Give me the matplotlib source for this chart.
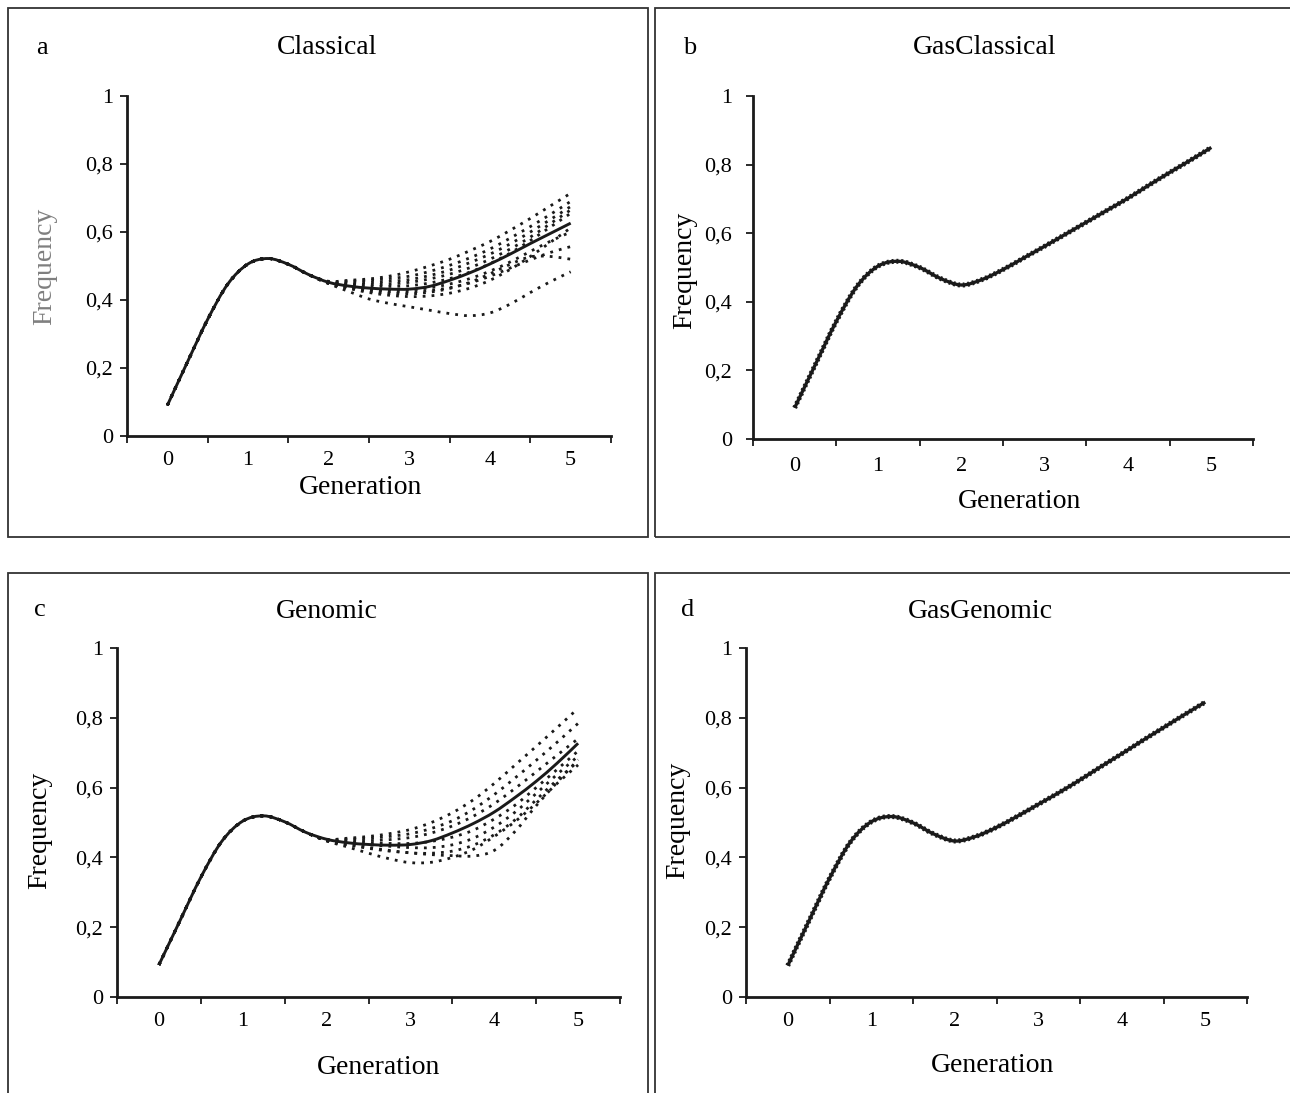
import numpy as np
import matplotlib
matplotlib.use("Agg")
import matplotlib.pyplot as plt
from matplotlib.patches import Rectangle, PathPatch
from matplotlib.path import Path
from matplotlib.ticker import FixedLocator, FuncFormatter

plt.rcParams['font.family'] = ['Liberation Serif', 'DejaVu Serif']

W, H = 1290, 1093

# ---------------- data ----------------
generation = [0.0, 0.25, 0.5, 0.75, 1.0, 1.25, 1.5, 1.75, 2.0, 2.25, 2.5, 2.75,
              3.0, 3.25, 3.5, 3.75, 4.0, 4.25, 4.5, 4.75, 5.0]
tick_labels_x = ["0", "1", "2", "3", "4", "5"]
tick_labels_y = ["0", "0,2", "0,4", "0,6", "0,8", "1"]

# mean curves (solid)
classical_mean = [0.090, 0.218, 0.343, 0.447, 0.506, 0.522, 0.505, 0.475, 0.452, 0.441, 0.435,
                  0.432, 0.432, 0.440, 0.458, 0.480, 0.506, 0.535, 0.566, 0.596, 0.626]
gasclassical_mean = [0.091, 0.218, 0.343, 0.446, 0.504, 0.518, 0.500, 0.468, 0.449, 0.465, 0.494,
                     0.528, 0.562, 0.597, 0.632, 0.667, 0.702, 0.740, 0.777, 0.813, 0.850]
genomic_mean = [0.092, 0.218, 0.343, 0.446, 0.504, 0.519, 0.502, 0.472, 0.452, 0.442, 0.437,
                0.435, 0.437, 0.448, 0.470, 0.497, 0.530, 0.572, 0.618, 0.670, 0.727]
gasgenomic_mean = [0.090, 0.216, 0.340, 0.444, 0.502, 0.517, 0.499, 0.467, 0.447, 0.460, 0.486,
                   0.518, 0.552, 0.586, 0.622, 0.660, 0.697, 0.735, 0.772, 0.809, 0.845]

# replicate curves (dotted), generation 2.0 .. 5.0 (earlier part shared with mean)
classical_reps = [
    [0.455, 0.458, 0.462, 0.470, 0.483, 0.500, 0.520, 0.545, 0.572, 0.605, 0.640, 0.677, 0.714],
    [0.454, 0.455, 0.458, 0.463, 0.470, 0.484, 0.502, 0.524, 0.550, 0.582, 0.616, 0.652, 0.690],
    [0.453, 0.450, 0.452, 0.455, 0.460, 0.472, 0.488, 0.510, 0.535, 0.565, 0.600, 0.637, 0.675],
    [0.452, 0.447, 0.446, 0.447, 0.452, 0.462, 0.476, 0.495, 0.520, 0.550, 0.585, 0.625, 0.665],
    [0.451, 0.444, 0.441, 0.440, 0.442, 0.450, 0.463, 0.482, 0.507, 0.538, 0.575, 0.615, 0.655],
    [0.450, 0.440, 0.434, 0.430, 0.430, 0.436, 0.447, 0.463, 0.485, 0.512, 0.543, 0.573, 0.600],
    [0.450, 0.438, 0.430, 0.425, 0.424, 0.428, 0.436, 0.450, 0.470, 0.494, 0.518, 0.540, 0.557],
    [0.449, 0.436, 0.426, 0.420, 0.418, 0.423, 0.434, 0.452, 0.477, 0.505, 0.527, 0.528, 0.520],
    [0.449, 0.434, 0.422, 0.414, 0.410, 0.412, 0.420, 0.435, 0.458, 0.490, 0.528, 0.570, 0.612],
    [0.448, 0.425, 0.403, 0.390, 0.380, 0.370, 0.360, 0.354, 0.362, 0.388, 0.422, 0.454, 0.483],
]
genomic_reps = [
    [0.452, 0.455, 0.460, 0.468, 0.480, 0.500, 0.528, 0.565, 0.612, 0.665, 0.718, 0.772, 0.827],
    [0.451, 0.452, 0.455, 0.460, 0.468, 0.483, 0.505, 0.538, 0.580, 0.628, 0.678, 0.730, 0.784],
    [0.450, 0.448, 0.448, 0.451, 0.457, 0.470, 0.490, 0.518, 0.554, 0.598, 0.645, 0.693, 0.740],
    [0.450, 0.444, 0.441, 0.440, 0.440, 0.446, 0.458, 0.478, 0.510, 0.550, 0.600, 0.652, 0.705],
    [0.449, 0.441, 0.436, 0.432, 0.428, 0.428, 0.436, 0.455, 0.487, 0.530, 0.583, 0.638, 0.690],
    [0.448, 0.437, 0.428, 0.420, 0.413, 0.412, 0.418, 0.435, 0.465, 0.508, 0.565, 0.622, 0.675],
    [0.447, 0.430, 0.412, 0.396, 0.385, 0.386, 0.400, 0.423, 0.460, 0.503, 0.555, 0.612, 0.665],
    [0.448, 0.436, 0.426, 0.418, 0.413, 0.408, 0.405, 0.404, 0.420, 0.475, 0.548, 0.615, 0.680],
]

panels = [
    dict(letter="a", title="Classical", mean=classical_mean, reps=classical_reps,
         ax_px=(127, 611, 96, 436), letter_px=(42, 48), title_px=(327, 48),
         xlab_px=(361, 487), ylab_px=(45, 266), ylab_color="#7f7f7f", xpad=11, ypad=5,
         box_px=(8, 8, 648, 537)),
    dict(letter="b", title="GasClassical", mean=gasclassical_mean, reps=None,
         ax_px=(753, 1253, 96, 439), letter_px=(690, 48), title_px=(985, 48),
         xlab_px=(1020, 501), ylab_px=(685, 270), ylab_color="black", xpad=13, ypad=10,
         box_px=(655, 8, 1295, 537)),
    dict(letter="c", title="Genomic", mean=genomic_mean, reps=genomic_reps,
         ax_px=(117, 620, 648, 997), letter_px=(40, 610), title_px=(327, 612),
         xlab_px=(379, 1068), ylab_px=(40, 830), ylab_color="black", xpad=11, ypad=5,
         box_px=(8, 573, 648, 1100)),
    dict(letter="d", title="GasGenomic", mean=gasgenomic_mean, reps=None,
         ax_px=(746, 1247, 648, 997), letter_px=(688, 610), title_px=(980, 612),
         xlab_px=(993, 1066), ylab_px=(678, 820), ylab_color="black", xpad=11, ypad=5,
         box_px=(655, 573, 1295, 1100)),
]

fig = plt.figure(figsize=(W / 100, H / 100), dpi=100)


def fx(x):
    return x / W


def fy(y):
    return 1 - y / H


def smooth_line(ax, x, y, **kw):
    """Draw a 'smoothed line' (Catmull-Rom style Bezier) through the data points."""
    x = np.asarray(x, float)
    y = np.asarray(y, float)
    pts = np.column_stack([x, y])
    ext = np.vstack([pts[0], pts, pts[-1]])
    verts = [pts[0]]
    codes = [Path.MOVETO]
    for i in range(len(pts) - 1):
        p0, p1, p2, p3 = ext[i], ext[i + 1], ext[i + 2], ext[i + 3]
        c1 = p1 + (p2 - p0) / 6.0
        c2 = p2 - (p3 - p1) / 6.0
        verts += [c1, c2, p2]
        codes += [Path.CURVE4] * 3
    patch = PathPatch(Path(verts, codes), fill=False, **kw)
    ax.add_patch(patch)
    return patch


gen = np.array(generation)
for p in panels:
    bx0, by0, bx1, by1 = p["box_px"]
    fig.patches.append(Rectangle((fx(bx0), fy(by1)), fx(bx1 - bx0), (by1 - by0) / H,
                                 transform=fig.transFigure, fill=False,
                                 edgecolor="#333333", linewidth=1.3))
    l, r, t, b = p["ax_px"]
    ax = fig.add_axes([fx(l), fy(b), fx(r - l), (b - t) / H])
    ax.set_xlim(-0.5, 5.5)
    ax.set_ylim(0, 1)
    for s in ("top", "right"):
        ax.spines[s].set_visible(False)
    for s in ("left", "bottom"):
        ax.spines[s].set_linewidth(2.0)
        ax.spines[s].set_color("#1a1a1a")
    ax.patch.set_alpha(0)

    mean = np.array(p["mean"])
    if p["reps"] is not None:
        for rep in p["reps"]:
            yv = np.concatenate([mean[:8], rep])
            smooth_line(ax, gen, yv, edgecolor="#1a1a1a", linewidth=2.0,
                        linestyle=(0, (1, 2.2)), capstyle="butt", zorder=2)
        smooth_line(ax, gen, mean, edgecolor="#1a1a1a", linewidth=2.1, zorder=3,
                    capstyle="butt")
    else:
        smooth_line(ax, gen, mean, edgecolor="#1a1a1a", linewidth=2.4, zorder=3,
                    capstyle="butt")
        smooth_line(ax, gen, mean, edgecolor="#1a1a1a", linewidth=3.6,
                    linestyle=(0, (0.4, 0.55)), capstyle="butt", zorder=3)

    # ticks
    ax.xaxis.set_major_locator(FixedLocator(np.arange(-0.5, 6.0, 1.0)))
    ax.xaxis.set_minor_locator(FixedLocator(np.arange(0, 6)))
    ax.xaxis.set_major_formatter(FuncFormatter(lambda v, i: ""))
    ax.xaxis.set_minor_formatter(FuncFormatter(lambda v, i: tick_labels_x[int(round(v))]))
    ax.tick_params(axis="x", which="major", direction="out", length=5, width=1.3,
                   color="#1a1a1a")
    ax.tick_params(axis="x", which="minor", length=0, pad=p["xpad"], labelsize=16)
    ax.set_yticks(np.linspace(0, 1, 6))
    ax.set_yticklabels(tick_labels_y)
    ax.tick_params(axis="y", direction="out", length=5, width=1.3, color="#1a1a1a",
                   labelsize=16, pad=p["ypad"])

    fig.text(fx(p["letter_px"][0]), fy(p["letter_px"][1]), p["letter"], ha="center",
             va="center", fontsize=19)
    fig.text(fx(p["title_px"][0]), fy(p["title_px"][1]), p["title"], ha="center",
             va="center", fontsize=20)
    fig.text(fx(p["xlab_px"][0]), fy(p["xlab_px"][1]), "Generation", ha="center",
             va="center", fontsize=20)
    fig.text(fx(p["ylab_px"][0]), fy(p["ylab_px"][1]), "Frequency", ha="center",
             va="center", rotation=90, fontsize=20, color=p["ylab_color"])

fig.savefig("out.png", dpi=100)
